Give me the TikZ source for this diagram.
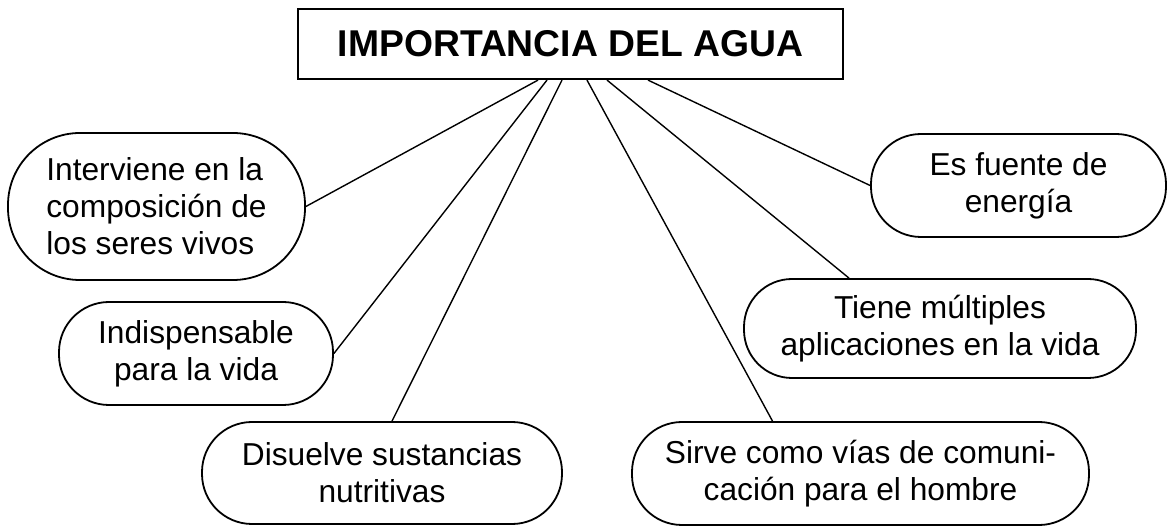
\documentclass[tikz,border=0pt]{standalone}
\usepackage{fontspec}
\setmainfont{Liberation Sans}

\begin{document}
\begin{tikzpicture}[x=1pt,y=-1pt,thick,
                title node/.style={draw,line width=2.2pt,minimum width=545pt,minimum height=70pt,inner sep=0pt,font=\fontsize{37.3}{44}\selectfont\bfseries},
                idea node/.style={draw,line width=1.8pt,rounded corners=50pt,inner sep=0pt,align=center,font=\fontsize{31.7}{37}\selectfont}]
                \useasboundingbox (0,0) rectangle (1168,526);
                \node[title node] (0) at (570.5,44) {IMPORTANCIA DEL AGUA};
                \node[idea node,align=left,rounded corners=72pt,minimum width=297pt,minimum height=147pt] (1) at (156.5,206.5) {Interviene en la\\composición de\\los seres vivos\hspace{12pt}};
                \node[idea node,minimum width=274pt,minimum height=103pt] (2) at (196,353.5) {Indispensable\\para la vida};
                \node[idea node,minimum width=360pt,minimum height=102pt] (3) at (382,473) {Disuelve sustancias\\nutritivas};
                \node[idea node,minimum width=457pt,minimum height=103pt] (4) at (860.5,473.5) {Sirve como vías de comuni-\\cación para el hombre};
                \node[idea node,rounded corners=48pt,minimum width=392pt,minimum height=99pt] (5) at (940,328.5) {Tiene múltiples\\aplicaciones en la vida};
                \node[idea node,minimum width=295pt,minimum height=103pt] (6) at (1018.5,185.5) {Es fuente de\\energía};

                \path[line width=1.4pt]
                ([xshift=-32.5pt]0.south) edge (1.east)
                ([xshift=-23.5pt]0.south) edge (2.east)
                ([xshift=-8.5pt]0.south) edge ([xshift=10pt]3.north)
                ([xshift=16.5pt]0.south) edge ([xshift=-88pt]4.north)
                ([xshift=36.5pt]0.south) edge ([xshift=-91pt]5.north)
                ([xshift=77.5pt]0.south) edge (6.west)
                ;
\end{tikzpicture}
\end{document}
